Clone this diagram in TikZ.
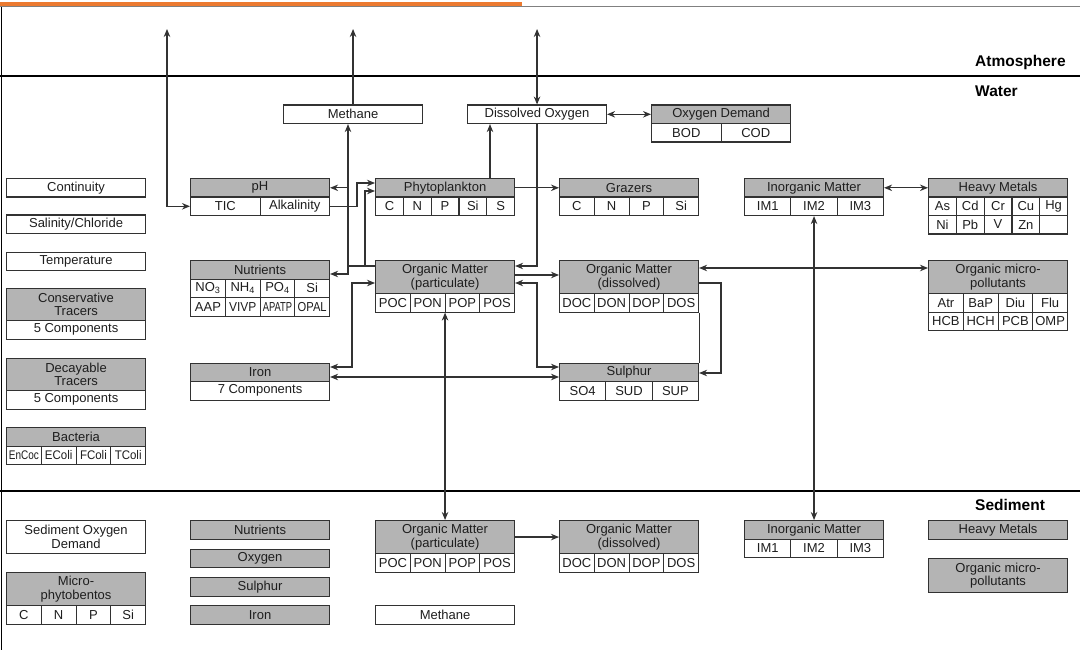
\documentclass[tikz,border=0pt]{standalone}
\usepackage{fontspec}
\setmainfont{Liberation Sans}
\usetikzlibrary{arrows.meta,positioning}
\definecolor{hdrgray}{RGB}{180,180,180}
\definecolor{edge}{RGB}{50,50,50}
\definecolor{ink}{RGB}{30,30,30}
\definecolor{slidebar}{RGB}{236,122,48}

\begin{document}
\begin{tikzpicture}[
  x=1pt, y=-1pt,
  hdr/.style={draw=edge, fill=hdrgray, line width=1.1pt, minimum width=139pt, minimum height=18.5pt,
    inner sep=0pt, anchor=north west, font=\fontsize{13}{13.5}\selectfont, text=ink, align=center},
  hdrtwo/.style={hdr, minimum height=33pt},
  cell/.style={draw=edge, fill=white, line width=1.1pt, minimum height=18.5pt, inner sep=0pt,
    anchor=north west, font=\fontsize{13}{13.5}\selectfont, text=ink},
  plain/.style={cell, minimum width=139pt, align=center},
  conn/.style={draw=edge, line width=1.2pt},
  zone/.style={font=\fontsize{15.5}{16}\selectfont\bfseries, anchor=west, inner sep=0pt},
  >={Stealth[length=8pt,width=6.5pt]},
]
  \useasboundingbox (0,0) rectangle (1080,650);
  % Frame and layers
  \fill[slidebar] (0,2.5) rectangle (522,6);
  \draw[gray, line width=1pt] (0,7) -- (1080,7);
  \draw[line width=1pt] (1,7) -- (1,650);
  \draw[line width=1.6pt] (0,76) -- (1080,76);
  \draw[line width=1.6pt] (0,491) -- (1080,491);
  \node[zone] (atm) at (975,62) {Atmosphere};
  \node[zone] (wat) at (975,91) {Water};
  \node[zone] (sed) at (975,505) {Sediment};

  % Left column
  \node[plain] (cont) at (6,178) {Continuity};
  \node[plain] (salt) at (6,214.5) {Salinity/Chloride};
  \node[plain] (temp) at (6,251.5) {Temperature};
  \node[hdrtwo, minimum height=32pt] (cons) at (6,288) {Conservative\\Tracers};
  \node[plain] (consc) at (6,320) {5 Components};
  \node[hdrtwo, minimum height=32pt] (decay) at (6,358) {Decayable\\Tracers};
  \node[plain] (decayc) at (6,390) {5 Components};
  \node[hdr] (bact) at (6,427) {Bacteria};
  \foreach \i/\lbl in {0/{\scalebox{0.8}[1]{EnCoc}}, 1/{\scalebox{0.92}[1]{EColi}}, 2/{\scalebox{0.92}[1]{FColi}}, 3/{\scalebox{0.92}[1]{TColi}}} {
    \node[cell, minimum width=34.75pt, font=\fontsize{12.5}{12.5}\selectfont] (bact\i) at ({6+\i*34.75},445.5) {\lbl};
  }

  % Row 1: gases
  \node[plain] (methw) at (283,104.5) {Methane};
  \node[plain] (dox) at (467,104.5) {Dissolved Oxygen};
  \node[hdr] (odem) at (651,104.5) {Oxygen Demand};
  \foreach \i/\lbl in {0/BOD, 1/COD} {
    \node[cell, minimum width=69.5pt] (odem\i) at ({651+\i*69.5},123) {\lbl};
  }

  % Row 2: pH, algae, grazers, inorganics
  \node[hdr] (ph) at (190,178) {pH};
  \foreach \i/\lbl in {0/TIC, 1/Alkalinity} {
    \node[cell, minimum width=69.5pt] (ph\i) at ({190+\i*69.5},196.5) {\lbl};
  }
  \node[hdr] (phy) at (375,178) {Phytoplankton};
  \foreach \i/\lbl in {0/C, 1/N, 2/P, 3/Si, 4/S} {
    \node[cell, minimum width=27.8pt] (phy\i) at ({375+\i*27.8},196.5) {\lbl};
  }
  \node[hdr] (graz) at (559,178) {Grazers};
  \foreach \i/\lbl in {0/C, 1/N, 2/P, 3/Si} {
    \node[cell, minimum width=34.75pt] (graz\i) at ({559+\i*34.75},196.5) {\lbl};
  }
  \node[hdr] (imw) at (744,178) {Inorganic Matter};
  \foreach \i/\lbl in {0/IM1, 1/IM2, 2/IM3} {
    \node[cell, minimum width=46.33pt] (imw\i) at ({744+\i*46.33},196.5) {\lbl};
  }
  \node[hdr] (hmw) at (928,178) {Heavy Metals};
  \foreach \i/\lbl in {0/As, 1/Cd, 2/Cr, 3/Cu, 4/Hg} {
    \node[cell, minimum width=27.8pt] (hmw\i) at ({928+\i*27.8},196.5) {\lbl};
  }
  \foreach \i/\lbl in {0/Ni, 1/Pb, 2/{\raisebox{2pt}{V}}, 3/Zn, 4/{}} {
    \node[cell, minimum width=27.8pt] (hmwb\i) at ({928+\i*27.8},215) {\lbl};
  }

  % Row 3: nutrients and organic matter
  \node[hdr] (nutw) at (190,260) {Nutrients};
  \foreach \i/\lbl in {0/{NO\textsubscript{3}}, 1/{NH\textsubscript{4}}, 2/{PO\textsubscript{4}}, 3/Si} {
    \node[cell, minimum width=34.75pt] (nutw\i) at ({190+\i*34.75},278.5) {\lbl};
  }
  \foreach \i/\lbl in {0/AAP, 1/{\scalebox{0.92}[1]{VIVP}}, 2/{\scalebox{0.72}[1]{APATP}}, 3/{\scalebox{0.86}[1]{OPAL}}} {
    \node[cell, minimum width=34.75pt] (nutwb\i) at ({190+\i*34.75},297) {\lbl};
  }
  \node[hdrtwo] (ompw) at (375,260) {Organic Matter\\(particulate)};
  \foreach \i/\lbl in {0/POC, 1/PON, 2/POP, 3/POS} {
    \node[cell, minimum width=34.75pt] (ompw\i) at ({375+\i*34.75},293) {\lbl};
  }
  \node[hdrtwo] (omdw) at (559,260) {Organic Matter\\(dissolved)};
  \foreach \i/\lbl in {0/DOC, 1/DON, 2/DOP, 3/DOS} {
    \node[cell, minimum width=34.75pt] (omdw\i) at ({559+\i*34.75},293) {\lbl};
  }
  \node[hdrtwo] (ompol) at (928,260) {Organic micro-\\pollutants};
  \foreach \i/\lbl in {0/Atr, 1/BaP, 2/Diu, 3/Flu} {
    \node[cell, minimum width=34.75pt] (ompol\i) at ({928+\i*34.75},293) {\lbl};
  }
  \foreach \i/\lbl in {0/HCB, 1/HCH, 2/PCB, 3/OMP} {
    \node[cell, minimum width=34.75pt] (ompolb\i) at ({928+\i*34.75},311.5) {\lbl};
  }

  % Row 4: iron and sulphur
  \node[hdr] (ironw) at (190,362.5) {Iron};
  \node[plain] (ironwc) at (190,381) {7 Components};
  \node[hdr] (sulw) at (559,362.5) {Sulphur};
  \foreach \i/\lbl in {0/SO4, 1/SUD, 2/SUP} {
    \node[cell, minimum width=46.33pt] (sulw\i) at ({559+\i*46.33},381) {\lbl};
  }

  % Sediment
  \node[plain, minimum height=33pt] (sod) at (6,520) {Sediment Oxygen\\Demand};
  \node[hdrtwo] (mpb) at (6,572) {Micro-\\phytobentos};
  \foreach \i/\lbl in {0/C, 1/N, 2/P, 3/Si} {
    \node[cell, minimum width=34.75pt] (mpb\i) at ({6+\i*34.75},605) {\lbl};
  }
  \node[hdr] (nuts) at (190,520) {Nutrients};
  \node[hdr] (oxys) at (190,548.5) {Oxygen};
  \node[hdr] (suls) at (190,577) {Sulphur};
  \node[hdr] (irons) at (190,605) {Iron};
  \node[hdrtwo] (omps) at (375,520) {Organic Matter\\(particulate)};
  \foreach \i/\lbl in {0/POC, 1/PON, 2/POP, 3/POS} {
    \node[cell, minimum width=34.75pt] (omps\i) at ({375+\i*34.75},553) {\lbl};
  }
  \node[plain] (meths) at (375,605) {Methane};
  \node[hdrtwo] (omds) at (559,520) {Organic Matter\\(dissolved)};
  \foreach \i/\lbl in {0/DOC, 1/DON, 2/DOP, 3/DOS} {
    \node[cell, minimum width=34.75pt] (omds\i) at ({559+\i*34.75},553) {\lbl};
  }
  \node[hdr] (ims) at (744,520) {Inorganic Matter};
  \foreach \i/\lbl in {0/IM1, 1/IM2, 2/IM3} {
    \node[cell, minimum width=46.33pt] (ims\i) at ({744+\i*46.33},538.5) {\lbl};
  }
  \node[hdr] (hms) at (928,520) {Heavy Metals};
  \node[hdrtwo, minimum height=34pt] (ompols) at (928,558) {Organic micro-\\pollutants};

  % Exchange with the atmosphere
  \coordinate (atmA) at (167,29);
  \draw[conn,<->] (atmA) |- (ph0.west);
  \draw[conn,->] (methw.north) -- (methw.north |- atmA);
  \draw[conn,<->] (dox.north |- atmA) -- (dox.north);
  \draw[conn,<->] (dox.east) -- (odem.west);

  % Water column processes
  \draw[conn,->] (phy.north -| 490,0) -- (dox.south -| 490,0);
  \draw[conn,->] (phy.east) -- (graz.west);
  \draw[conn,->] (ph1.east) -| (357,194) |- (phy.west |- 0,183);
  \coordinate (fan) at (348,266);
  \draw[conn] (ompw.west |- fan) -- (fan);
  \draw[conn,->] (fan) -- (fan |- methw.south);
  \draw[conn,->] (fan |- ph.east) -- (ph.east);
  \draw[conn,->] (fan) |- (nutw.east |- 0,274);
  \draw[conn,->] (ompw.west |- fan) -| (365,228) |- (phy.west |- 0,191);
  \draw[conn,<->] (ompw.west |- 0,283) -| (352,330) |- (ironw.east |- 0,367);
  \draw[conn,<->] (ironw.east |- 0,377) -- (sulw.west |- 0,377);
  \draw[conn,<->] (ompw.east |- 0,283) -| (537,330) |- (sulw.west |- 0,367);
  \draw[conn,->] (ompw.east |- 0,275) -- (omdw.west |- 0,275);
  \draw[conn,->] (dox.south) |- (ompw.east |- 0,266);
  \draw[conn,<->] (omdw.east |- 0,268) -- (ompol.west |- 0,268);
  \draw[conn,->] (omdw.east |- 0,283) -| (721,330) |- (sulw.east |- 0,373);
  \draw[conn] (omdw3.south east) -- (sulw.north east);
  \draw[conn,<->] (imw.east) -- (hmw.west);

  % Exchange with the sediment
  \draw[conn,<->] (imw1.south) -- (ims.north -| imw1.south);
  \draw[conn,<->] (omps.north |- ompw1.south) -- (omps.north);
  \draw[conn,->] (omps.east) -- (omds.west);
\end{tikzpicture}
\end{document}
